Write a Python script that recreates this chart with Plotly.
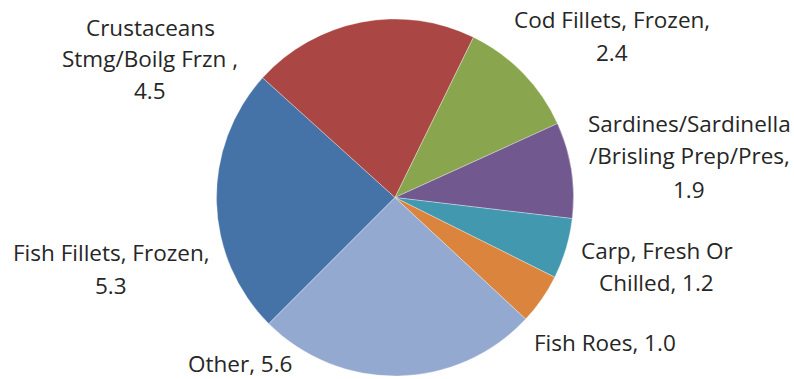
import plotly.graph_objects as go

# Export value shares by product group
categories = [
    "Fish Fillets, Frozen",
    "Crustaceans Stmg/Boilg Frzn ",
    "Cod Fillets, Frozen",
    "Sardines/Sardinella/Brisling Prep/Pres",
    "Carp, Fresh Or Chilled",
    "Fish Roes",
    "Other",
]
values = [5.3, 4.5, 2.4, 1.9, 1.2, 1.0, 5.6]

colors = ["#4572A7", "#AA4643", "#89A54E", "#71588F", "#4198AF", "#DB843D", "#93A9CF"]

W, H = 794, 379

# Character offsets where each label wraps, and the pixel centre of each label line
breaks = [[21], [12, 30], [20], [19, 39], [15], [], []]
line_pos = [
    [(111, 252), (111, 285)],
    [(150, 27), (150, 59), (150, 91)],
    [(612, 20), (612, 53)],
    [(689, 123), (689, 155), (689, 189)],
    [(657, 250), (656, 282)],
    [(605, 342)],
    [(240, 363)],
]


def split_label(text, cuts):
    parts, prev = [], 0
    for c in cuts:
        parts.append(text[prev:c].strip())
        prev = c
    parts.append(text[prev:].strip())
    return parts


fig = go.Figure(
    go.Pie(
        labels=categories,
        values=values,
        sort=False,
        direction="clockwise",
        rotation=225,
        marker=dict(colors=colors, line=dict(color="rgba(255,255,255,0.55)", width=0.6)),
        textinfo="none",
        hoverinfo="skip",
        showlegend=False,
        domain=dict(x=[216.5 / W, 573.5 / W], y=[1 - 376 / H, 1 - 19 / H]),
    )
)

annotations = []
for cat, val, cuts, pos in zip(categories, values, breaks, line_pos):
    lines = split_label(f"{cat}, {val:.1f}", cuts)
    for line, (px, py) in zip(lines, pos):
        annotations.append(
            dict(
                text=line,
                x=px / W,
                y=1 - py / H,
                xref="paper",
                yref="paper",
                xanchor="center",
                yanchor="middle",
                showarrow=False,
                font=dict(family="Open Sans, sans-serif", size=22.5, color="#262626"),
            )
        )

fig.update_layout(
    width=W,
    height=H,
    margin=dict(l=0, r=0, t=0, b=0),
    paper_bgcolor="white",
    plot_bgcolor="white",
    annotations=annotations,
)

fig.write_html("out.html")
